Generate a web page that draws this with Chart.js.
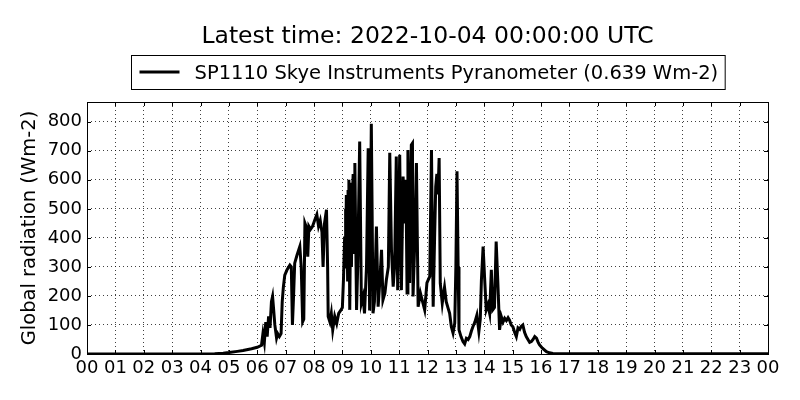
<!DOCTYPE html>
<html>
<head>
<meta charset="utf-8">
<title>Global radiation</title>
<script src="https://cdn.jsdelivr.net/npm/chart.js@4/dist/chart.umd.min.js"></script>
<style>
	html, body { margin: 0; padding: 0; background: #fff; }
	#wrap { width: 800px; height: 400px; }
</style>
</head>
<body>
<div id="wrap"><canvas id="chart1"></canvas></div>
<script>
// valeurs (heure décimale UTC, Wm-2)
const hours = [
	0, 4.0, 4.5, 4.8, 5.0, 5.3, 5.5, 5.8, 6.0, 6.15,
	6.2, 6.25, 6.3, 6.35, 6.4, 6.45, 6.5, 6.54, 6.58, 6.62,
	6.68, 6.72, 6.78, 6.84, 6.88, 6.92, 6.97, 7.05, 7.15, 7.2,
	7.24, 7.28, 7.32, 7.4, 7.5, 7.55, 7.6, 7.64, 7.68, 7.72,
	7.78, 7.82, 7.88, 7.95, 8.03, 8.1, 8.16, 8.22, 8.28, 8.32,
	8.37, 8.44, 8.48, 8.5, 8.56, 8.61, 8.66, 8.7, 8.73, 8.8,
	8.87, 8.94, 9.0, 9.04, 9.08, 9.1, 9.11, 9.12, 9.14, 9.17,
	9.185, 9.2, 9.23, 9.26, 9.3, 9.32, 9.34, 9.38, 9.41, 9.44,
	9.47, 9.5, 9.54, 9.61, 9.67, 9.73, 9.78, 9.85, 9.91, 9.96,
	10.02, 10.08, 10.13, 10.2, 10.26, 10.32, 10.38, 10.43, 10.5, 10.55,
	10.62, 10.67, 10.73, 10.79, 10.84, 10.9, 10.95, 11.02, 11.08, 11.14,
	11.2, 11.24, 11.28, 11.31, 11.37, 11.43, 11.47, 11.49, 11.55, 11.61,
	11.67, 11.75, 11.84, 11.9, 11.98, 12.08, 12.14, 12.2, 12.25, 12.29,
	12.33, 12.37, 12.41, 12.45, 12.52, 12.55, 12.6, 12.66, 12.72, 12.78,
	12.84, 12.9, 12.96, 13.0, 13.04, 13.08, 13.11, 13.18, 13.25, 13.31,
	13.37, 13.43, 13.49, 13.55, 13.6, 13.67, 13.74, 13.81, 13.86, 13.9,
	13.96, 14.01, 14.07, 14.13, 14.19, 14.25, 14.3, 14.36, 14.42, 14.48,
	14.54, 14.6, 14.66, 14.72, 14.78, 14.84, 14.89, 14.95, 15.01, 15.07,
	15.13, 15.19, 15.25, 15.3, 15.36, 15.42, 15.48, 15.54, 15.6, 15.66,
	15.72, 15.78, 15.84, 15.9, 15.95, 16.05, 16.19, 16.3, 16.42, 16.7,
	17.0, 24.0
];
const radiation = [
	0, 0, 1, 3, 5, 9, 12, 18, 23, 30,
	70, 40, 110, 60, 130, 90, 180, 198, 150, 100,
	55, 70, 60, 70, 180, 230, 272, 290, 306, 300,
	100, 200, 313, 340, 370, 300, 111, 120, 451, 440,
	335, 440, 430, 440, 462, 480, 440, 460, 420, 300,
	450, 497, 300, 129, 110, 140, 83, 110, 130, 105,
	140, 150, 160, 260, 405, 300, 500, 320, 548, 400,
	250, 560, 600, 152, 590, 300, 500, 620, 350, 658,
	400, 152, 300, 732, 175, 198, 140, 300, 709, 150,
	793, 140, 180, 439, 163, 250, 359, 186, 210, 255,
	300, 693, 358, 232, 300, 680, 220, 686, 220, 611,
	450, 600, 210, 703, 245, 720, 726, 198, 382, 658,
	163, 210, 175, 152, 245, 267, 703, 163, 400, 577,
	620, 550, 675, 244, 175, 198, 230, 180, 160, 140,
	94, 72, 106, 300, 629, 300, 83, 60, 43, 35,
	54, 50, 60, 80, 94, 110, 134, 77, 120, 255,
	370, 267, 152, 170, 140, 290, 152, 160, 387, 244,
	83, 129, 110, 123, 115, 125, 117, 100, 94, 75,
	60, 90, 85, 95, 100, 75, 60, 50, 40, 43,
	50, 60, 55, 40, 31, 20, 8, 4, 2, 1,
	0.6, 0.639
];
const xTicks = ['00','01','02','03','04','05','06','07','08','09','10','11','12',
	'13','14','15','16','17','18','19','20','21','22','23','00'];
const yTicks = [0, 100, 200, 300, 400, 500, 600, 700, 800];

const titleText = 'Latest time: 2022-10-04 00:00:00 UTC';
const legendText = 'SP1110 Skye Instruments Pyranometer (0.639 Wm-2)';
const FONT = '"DejaVu Sans", "Liberation Sans", sans-serif';

var points = [];
for (var i = 0; i < hours.length; i++) {
	points.push({ x: hours[i], y: radiation[i] });
}

// titre + légende encadrée + cadre du graphe + petits ticks vers l'intérieur
const decor = {
	id: 'decor',
	afterDraw(chart) {
		const ctx = chart.ctx;
		const a = chart.chartArea;
		const cx = (a.left + a.right) / 2;
		ctx.save();
		ctx.fillStyle = '#000';
		ctx.textAlign = 'center';
		ctx.textBaseline = 'alphabetic';
		ctx.font = '23.5px ' + FONT;
		ctx.fillText(titleText, cx, 43);

		// légende
		ctx.font = '19.5px ' + FONT;
		const tw = ctx.measureText(legendText).width;
		const boxW = tw + 70;
		const bx = Math.round(cx - boxW / 2) + 0.5;
		ctx.lineWidth = 1;
		ctx.strokeStyle = '#000';
		ctx.strokeRect(bx, 55.5, boxW, 34);
		ctx.lineWidth = 3;
		ctx.beginPath();
		ctx.moveTo(bx + 8, 72);
		ctx.lineTo(bx + 48, 72);
		ctx.stroke();
		ctx.textAlign = 'left';
		ctx.fillText(legendText, bx + 63, 79);

		// cadre
		ctx.lineWidth = 1;
		ctx.strokeRect(Math.round(a.left) + 0.5, Math.round(a.top) + 0.5,
			Math.round(a.right - a.left), Math.round(a.bottom - a.top));

		// ticks
		const xs = chart.scales.x, ys = chart.scales.y;
		ctx.beginPath();
		xs.ticks.forEach(t => {
			const px = Math.round(xs.getPixelForValue(t.value)) + 0.5;
			ctx.moveTo(px, a.bottom); ctx.lineTo(px, a.bottom - 4);
			ctx.moveTo(px, a.top); ctx.lineTo(px, a.top + 4);
		});
		ys.ticks.forEach(t => {
			const py = Math.round(ys.getPixelForValue(t.value)) + 0.5;
			ctx.moveTo(a.left, py); ctx.lineTo(a.left + 4, py);
			ctx.moveTo(a.right, py); ctx.lineTo(a.right - 4, py);
		});
		ctx.stroke();
		ctx.restore();
	}
};

new Chart(document.getElementById('chart1'), {
	type: 'line',
	data: {
		datasets: [
			{
				label: legendText,
				data: points,
				borderColor: '#000',
				borderWidth: 3,
				pointRadius: 0,
				tension: 0,
				fill: false,
			},
		]
	},
	options: {
		responsive: true,
		maintainAspectRatio: false,
		animation: false,
		layout: { padding: { top: 102, right: 32, left: 0, bottom: 0 } },
		plugins: {
			legend: { display: false },
			title: { display: false },
			tooltip: { enabled: false },
		},
		scales: {
			x: {
				type: 'linear',
				min: 0,
				max: 24,
				afterFit: s => { s.height = 46; },
				afterBuildTicks: s => { s.ticks = xTicks.map((l, i) => ({ value: i })); },
				ticks: {
					autoSkip: false,
					maxRotation: 0,
					padding: 4,
					color: '#000',
					font: { family: FONT, size: 18 },
					callback: (v, i) => xTicks[i],
				},
				grid: {
					color: 'rgba(0,0,0,0.75)',
					lineWidth: 1,
					drawTicks: false,
				},
				border: { display: false, dash: [1, 3] },
			},
			y: {
				min: 0,
				max: 868,
				afterFit: s => { s.width = 87; },
				afterBuildTicks: s => { s.ticks = yTicks.map(v => ({ value: v })); },
				ticks: {
					padding: 5,
					color: '#000',
					font: { family: FONT, size: 18 },
				},
				grid: {
					color: 'rgba(0,0,0,0.75)',
					lineWidth: 1,
					drawTicks: false,
				},
				border: { display: false, dash: [1, 3] },
				title: {
					display: true,
					text: 'Global radiation (Wm-2)',
					color: '#000',
					font: { family: FONT, size: 19.5 },
					padding: { top: 18, bottom: 0 },
				},
			}
		}
	},
	plugins: [decor]
});
</script>
</body>
</html>
